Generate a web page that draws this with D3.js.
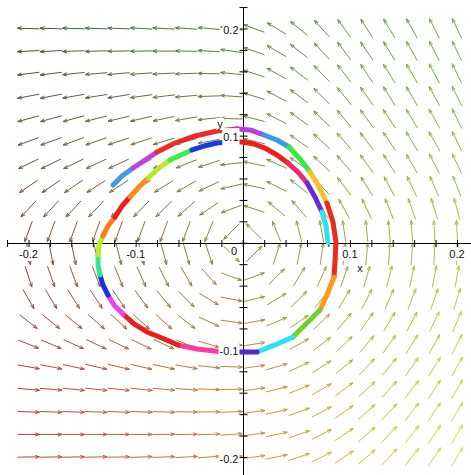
<!DOCTYPE html>
<html>
<head>
<meta charset="utf-8">
<script src="https://cdn.jsdelivr.net/npm/d3@7"></script>
<style>
  body { margin: 0; background: #fff; }
  svg { display: block; }
  text { font-family: "Liberation Sans", Arial, sans-serif; fill: #111; }
</style>
</head>
<body>
<div id="chart"></div>
<script>
// Grid of the direction field (20 x 20), x left to right, y top to bottom
const gridX = [-0.2, -0.1789, -0.1579, -0.1368, -0.1158, -0.0947, -0.0737, -0.0526, -0.0316, -0.0105,
               0.0105, 0.0316, 0.0526, 0.0737, 0.0947, 0.1158, 0.1368, 0.1579, 0.1789, 0.2];
const gridY = [0.2, 0.1789, 0.1579, 0.1368, 0.1158, 0.0947, 0.0737, 0.0526, 0.0316, 0.0105,
               -0.0105, -0.0316, -0.0526, -0.0737, -0.0947, -0.1158, -0.1368, -0.1579, -0.1789, -0.2];

// Arrow direction at each grid point, degrees counter-clockwise from +x (one row per gridY)
const fieldAngles = [
  [178,178,178,178,178,177,177,176,175,171, 160,149,141,132,126,123,121,119,117,115],
  [183,183,182,182,181,181,180,179,177,172, 161,150,142,133,127,124,121,119,117,115],
  [187,187,186,185,185,184,183,182,179,174, 162,151,143,134,128,124,122,120,118,116],
  [191,191,190,189,189,188,187,185,182,176, 163,152,143,135,129,125,122,120,118,116],
  [195,195,195,194,193,193,192,190,186,178, 165,153,144,136,130,126,123,121,119,116],
  [200,200,200,199,198,198,197,195,191,181, 167,155,145,137,131,127,124,121,119,116],
  [206,206,206,205,205,204,203,202,198,186, 168,156,146,137,131,126,122,120,117,115],
  [214,214,214,213,213,213,212,210,205,193, 168,153,142,133,127,122,118,115,113,111],
  [227,227,227,227,227,226,225,222,214,200, 162,140,131,124,119,115,112,109,107,105],
  [250,250,250,250,250,250,250,250,248,225, 135,112,104,100, 98, 96, 95, 94, 93, 93],
  [280,281,282,283,284,284,285,286,288,315,  45, 72, 79, 82, 84, 85, 86, 86, 87, 87],
  [288,289,290,291,292,294,296,300,312,340,  20, 45, 59, 66, 71, 74, 76, 78, 79, 80],
  [300,301,302,303,304,306,309,315,329,349,  13, 31, 45, 53, 59, 63, 67, 69, 71, 73],
  [322,321,320,319,318,317,318,322,335,352,  10, 23, 35, 43, 50, 55, 59, 62, 65, 67],
  [338,337,336,335,334,334,335,338,344,354,   9, 19, 29, 37, 44, 50, 54, 58, 61, 63],
  [350,349,348,347,347,347,348,350,354,358,   8, 16, 25, 33, 40, 46, 51, 55, 58, 61],
  [355,355,354,354,354,354,355,356,358,  1,   8, 14, 22, 30, 37, 43, 48, 53, 57, 60],
  [358,358,358,358,358,358,358,359,  0,  2,   8, 13, 20, 28, 35, 42, 47, 52, 56, 59],
  [  0,  0,  0,  0,  0,  0,  1,  1,  2,  4,   8, 12, 19, 27, 34, 41, 47, 52, 56, 59],
  [  1,  1,  1,  1,  1,  2,  2,  3,  4,  5,   8, 12, 18, 26, 34, 41, 47, 52, 56, 59]
];

// Solution curve
const trajX = [-0.1211,-0.1127,-0.1024,-0.0912,-0.0800,-0.0632,-0.0446,-0.0240,-0.0054,0.0068,
               0.0198,0.0320,0.0432,0.0534,0.0628,0.0712,0.0786,0.0842,0.0870,0.0861,
               0.0852,0.0786,0.0721,0.0600,0.0469,0.0301,0.0133,-0.0044,-0.0147,-0.0259,
               -0.0427,-0.0604,-0.0754,-0.0894,-0.1015,-0.1118,-0.1202,-0.1258,-0.1305,-0.1333,
               -0.1351,-0.1351,-0.1342,-0.1305,-0.1258,-0.1193,-0.1127,-0.1053,-0.0969,-0.0885,
               -0.0782,-0.0679,-0.0576,-0.0474,-0.0362,-0.0240,-0.0119,0.0002,0.0105,0.0208,
               0.0320,0.0422,0.0516,0.0600,0.0674,0.0740,0.0777,0.0796];
const trajY = [0.0539,0.0623,0.0698,0.0772,0.0847,0.0931,0.0997,0.1043,0.1062,0.1053,
               0.1006,0.0959,0.0894,0.0782,0.0660,0.0520,0.0371,0.0194,0.0007,-0.0180,
               -0.0320,-0.0488,-0.0628,-0.0749,-0.0880,-0.0954,-0.1020,-0.1020,-0.1020,-0.1011,
               -0.0992,-0.0954,-0.0889,-0.0833,-0.0758,-0.0665,-0.0581,-0.0488,-0.0394,-0.0301,
               -0.0208,-0.0114,-0.0021,0.0063,0.0156,0.0240,0.0343,0.0427,0.0520,0.0604,
               0.0698,0.0772,0.0819,0.0866,0.0903,0.0931,0.0940,0.0940,0.0922,0.0884,
               0.0819,0.0744,0.0660,0.0558,0.0427,0.0287,0.0156,0.0007];
// index where each coloured piece of the curve starts (last entry = final point)
const segBreaks = [0,2,4,8,10,12,14,16,20,22,24,26,28,31,35,37,39,41,43,45,47,49,51,53,56,61,63,65,67];
const segColors = ['#3b9be8','#c040e0','#ee2a2a','#b83ee0','#3b9be8','#3de83d','#f2c428','#ee2a1f',
                   '#ff9a1f','#6fd12a','#2ee0f0','#5a26d0','#ff3aa0','#ee1c1c','#f040f0','#1a30e0',
                   '#30e890','#b8ee28','#ff7a1a','#ee1c1c','#ff8a1a','#b8e828','#40ee40','#1a3ae0',
                   '#ee1c1c','#ee2a70','#6a2ad8','#2ee0f0'];

// Axis ticks and labels
const axisTicks = [-0.22,-0.2,-0.18,-0.16,-0.14,-0.12,-0.1,-0.08,-0.06,-0.04,-0.02,0,
                   0.02,0.04,0.06,0.08,0.1,0.12,0.14,0.16,0.18,0.2,0.22];
const xTickLabels = [-0.2, -0.1, 0.1, 0.2];
const yTickLabels = [0.2, 0.1, -0.1, -0.2];

const W = 471, H = 475;
const x = d3.scaleLinear().domain([-0.2, 0.2]).range([28.5, 457]);
const y = d3.scaleLinear().domain([-0.2, 0.2]).range([457, 28.5]);

const svg = d3.select('#chart').append('svg')
  .attr('width', W)
  .attr('height', H);
svg.append('rect').attr('width', W).attr('height', H).attr('fill', '#fff');

// Arrow colour blends between the four corners of the field
const cornerTL = '#3f5e36', cornerTR = '#66b44a', cornerBL = '#c93b3b', cornerBR = '#d9e045';
const unit = d3.scaleLinear().domain([-0.2, 0.2]).range([0, 1]);
function arrowColor(xv, yv) {
  var t = unit(xv), s = 1 - unit(yv);
  var top = d3.interpolateRgb(cornerTL, cornerTR)(t);
  var bot = d3.interpolateRgb(cornerBL, cornerBR)(t);
  return d3.interpolateRgb(top, bot)(s);
}

/////////////// direction field ///////////////
const arrowLen = 22, barbLen = 4.5, barbAng = 20 * Math.PI / 180;
const field = svg.append('g').attr('fill', 'none').attr('stroke-width', 1);

fieldAngles.forEach(function(row, j) {
  row.forEach(function(deg, i) {
    var cx = x(gridX[i]), cy = y(gridY[j]);
    var a = deg * Math.PI / 180;
    var dx = Math.cos(a), dy = -Math.sin(a);
    var hx = cx + dx * arrowLen / 2, hy = cy + dy * arrowLen / 2;
    var tx = cx - dx * arrowLen / 2, ty = cy - dy * arrowLen / 2;
    var back = Math.atan2(-dy, -dx);
    var b1x = hx + barbLen * Math.cos(back + barbAng), b1y = hy + barbLen * Math.sin(back + barbAng);
    var b2x = hx + barbLen * Math.cos(back - barbAng), b2y = hy + barbLen * Math.sin(back - barbAng);
    field.append('path')
      .attr('d', 'M' + tx + ',' + ty + 'L' + hx + ',' + hy + 'M' + b1x + ',' + b1y + 'L' + hx + ',' + hy + 'L' + b2x + ',' + b2y)
      .attr('stroke', arrowColor(gridX[i], gridY[j]));
  });
});

/////////////// axes ///////////////
const x0 = Math.round(x(0)) + 0.5, y0 = Math.round(y(0)) + 0.5;
const axes = svg.append('g');
axes.append('line')
  .attr('x1', x(-0.22)).attr('x2', x(0.22))
  .attr('y1', y0).attr('y2', y0)
  .attr('stroke', '#000');
axes.append('line')
  .attr('x1', x0).attr('x2', x0)
  .attr('y1', y(0.22)).attr('y2', y(-0.22))
  .attr('stroke', '#000');

axes.append('g')
  .attr('transform', 'translate(0,' + (y0 - 3.5) + ')')
  .call(d3.axisBottom(x).tickValues(axisTicks).tickSize(7).tickFormat(''))
  .call(function(g) { g.select('.domain').remove(); });
axes.append('g')
  .attr('transform', 'translate(' + (x0 + 4) + ',0)')
  .call(d3.axisLeft(y).tickValues(axisTicks).tickSize(8).tickFormat(''))
  .call(function(g) { g.select('.domain').remove(); });

/////////////// solution curve ///////////////
const pts = trajX.map(function(v, k) { return [v, trajY[k]]; });
const curveLine = d3.line()
  .x(function(d) { return x(d[0]); })
  .y(function(d) { return y(d[1]); });

const curve = svg.append('g')
  .attr('fill', 'none')
  .attr('stroke-width', 5)
  .attr('stroke-linecap', 'round')
  .attr('stroke-linejoin', 'round');
segColors.forEach(function(c, s) {
  curve.append('path')
    .attr('d', curveLine(pts.slice(segBreaks[s], segBreaks[s + 1] + 1)))
    .attr('stroke', c);
});

/////////////// labels on white boxes ///////////////
const labels = svg.append('g');
function boxedLabel(txt, px, py, anchor, size, padY) {
  var t = labels.append('text')
    .attr('x', px)
    .attr('y', py)
    .attr('text-anchor', anchor)
    .attr('dominant-baseline', 'central')
    .style('font-size', size + 'px')
    .text(txt);
  var b = t.node().getBBox();
  labels.insert('rect', function() { return t.node(); })
    .attr('x', b.x - 1)
    .attr('y', b.y - padY)
    .attr('width', b.width + 2)
    .attr('height', b.height + 2 * padY)
    .attr('fill', '#fff');
}

xTickLabels.forEach(function(v) {
  boxedLabel(String(v), x(v), 254, 'middle', 11, 1);
});
boxedLabel('0', 234, 251, 'middle', 11, 1);
yTickLabels.forEach(function(v) {
  boxedLabel(String(v), x0 - 5, y(v) + 1.5, 'end', 11, 3);
});
boxedLabel('x', 360, 268, 'middle', 11, 0);
boxedLabel('y', 220, 124, 'middle', 11, 0);
</script>
</body>
</html>
